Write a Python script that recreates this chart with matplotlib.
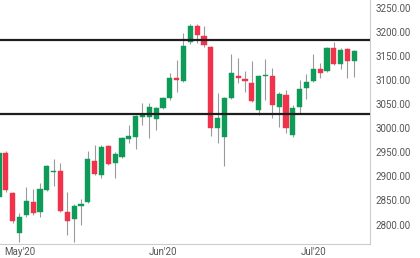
import matplotlib
matplotlib.use("Agg")
import matplotlib.pyplot as plt

# OHLC values (one candle per trading day)
opens = [2857, 2948, 2865, 2782, 2820, 2847, 2826, 2871, 2908, 2911,
         2826, 2811, 2838, 2847, 2932, 2903, 2963, 2927, 2940, 2977,
         2981, 3023, 3023, 3019, 3042, 3062, 3104, 3098, 3178, 3211,
         3191, 3168, 3000, 2981, 3062, 3108, 3102, 3093, 3037, 3108,
         3108, 3044, 3068, 2986, 3044, 3083, 3098, 3122, 3118, 3166,
         3133, 3164, 3139]
highs = [2955, 2952, 2868, 2824, 2878, 2874, 2886, 2923, 2936, 2927,
         2867, 2842, 2853, 2952, 2965, 2965, 2964, 2950, 2982, 3006,
         3027, 3052, 3052, 3044, 3064, 3114, 3141, 3197, 3216, 3216,
         3212, 3170, 3073, 3064, 3154, 3145, 3118, 3139, 3110, 3143,
         3124, 3075, 3079, 3048, 3100, 3112, 3154, 3135, 3168, 3178,
         3166, 3166, 3162]
lows = [2851, 2867, 2804, 2764, 2816, 2820, 2816, 2869, 2880, 2826,
        2778, 2764, 2799, 2845, 2903, 2896, 2924, 2896, 2938, 2969,
        2957, 3006, 2979, 2996, 3040, 3058, 3075, 3095, 3174, 3176,
        3168, 2983, 2969, 2921, 3060, 3093, 3075, 3054, 3027, 3058,
        3021, 3002, 2990, 2981, 3031, 3060, 3096, 3104, 3116, 3131,
        3122, 3104, 3106]
closes = [2948, 2871, 2807, 2815, 2849, 2824, 2874, 2921, 2910, 2828,
          2807, 2838, 2842, 2936, 2905, 2961, 2925, 2946, 2979, 2983,
          3025, 3029, 3044, 3042, 3062, 3104, 3100, 3170, 3211, 3193,
          3172, 3000, 3021, 3062, 3114, 3104, 3098, 3056, 3108, 3110,
          3048, 3070, 3000, 3042, 3081, 3095, 3122, 3114, 3166, 3133,
          3162, 3139, 3160]

level_lines = [3183, 3030]
y_ticks = [2800, 2850, 2900, 2950, 3000, 3050, 3100, 3150, 3200, 3250]
month_labels = ["May'20", "Jun'20", "Jul'20"]
month_index = [3, 24, 46]

GREEN = "#0e9b57"
RED = "#f0334a"
WICK = "#9a9a9a"

plt.rcParams['font.family'] = ['Roboto', 'DejaVu Sans']
fig = plt.figure(figsize=(4.2, 2.58), dpi=100)
ax = fig.add_axes([0.0, 0.054, 0.881, 0.946])

x = list(range(len(opens)))
for i, o, h, l, c in zip(x, opens, highs, lows, closes):
    col = GREEN if c >= o else RED
    ax.vlines(i, l, h, color=WICK, linewidth=0.8, zorder=1)
    bottom = min(o, c)
    height = max(abs(c - o), 1.5)
    ax.bar(i, height, bottom=bottom, width=0.75, color=col,
           edgecolor=col, linewidth=0.3, zorder=2)

for lv in level_lines:
    ax.axhline(lv, color="#1e1e1e", linewidth=1.6, zorder=3)

ax.set_xlim(0.15, 54.3)
ax.set_ylim(2759.5, 3265.6)

ax.yaxis.tick_right()
ax.set_yticks(y_ticks)
ax.set_yticklabels([f"{v:.2f}" for v in y_ticks])
ax.set_xticks(month_index)
ax.set_xticklabels(month_labels)
ax.tick_params(axis='both', length=0, labelsize=7, colors="#555555")
ax.tick_params(axis='y', pad=4)
ax.tick_params(axis='x', pad=2)

for s in ['top', 'left']:
    ax.spines[s].set_visible(False)
ax.spines['right'].set_color("#cccccc")
ax.spines['bottom'].set_color("#cccccc")
ax.spines['right'].set_linewidth(0.8)
ax.spines['bottom'].set_linewidth(0.8)

fig.savefig("out.png", dpi=100)
